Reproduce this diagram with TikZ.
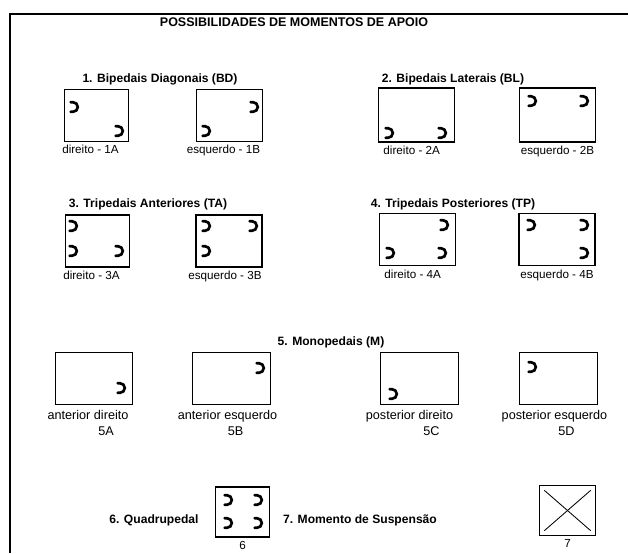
\documentclass[tikz,border=0pt]{standalone}
\usepackage{fontspec}
\setmainfont{Liberation Sans}
\usetikzlibrary{positioning,calc}
\tikzset{
  box/.style={draw=black,line width=0.8pt,inner sep=0pt,minimum height=1.3cm,minimum width=#1},
  box/.default=1.9cm,
  heading/.style={font=\fontsize{8.6}{10}\selectfont\bfseries,inner sep=1pt},
  caption/.style={font=\fontsize{8.3}{10}\selectfont,inner sep=1pt},
  wide caption/.style={font=\fontsize{9}{10.8}\selectfont,inner sep=0.5pt,text height=1.35ex,text depth=0.3ex},
  % pictograms
  pics/hoof/.style={code={
    \draw[line width=1.9pt,line cap=round] (-0.06cm,0.12cm) -- (0cm,0.12cm)
      arc[start angle=90,end angle=-90,radius=0.12cm] -- (-0.06cm,-0.12cm);
  }},
}
\begin{document}
\begin{tikzpicture}[x=0.025cm,y=-0.025cm]
  \useasboundingbox (0,0) rectangle (628,553);
  \draw[line width=1.2pt] (10,553) -- (10,14) -- (628,14);
  \node[heading,font=\fontsize{8.9}{10}\selectfont\bfseries] (title) at (294,22) {POSSIBILIDADES DE MOMENTOS DE APOIO};

  % 1 and 2
  \node[heading] (h1) at (160,79) {1. Bipedais Diagonais (BD)};
  \node[heading] (h2) at (453,79) {2. Bipedais Laterais (BL)};
  \node[box=1.6cm,minimum height=1.28cm] (b1A) at (96.5,115.5) {};
  \node[box=1.66cm,minimum height=1.28cm] (b1B) at (229.5,115.5) {};
  \node[box,minimum height=1.35cm] (b2A) at (416.5,115) {};
  \node[box,minimum height=1.35cm] (b2B) at (557.5,115) {};
  \node[caption,below=1pt of b1A,xshift=-0.15cm] (l1A) {direito - 1A};
  \node[caption,below=1pt of b1B,xshift=-0.15cm] (l1B) {esquerdo - 1B};
  \node[caption,below=1pt of b2A,xshift=-0.12cm] (l2A) {direito - 2A};
  \node[caption,below=1pt of b2B] (l2B) {esquerdo - 2B};

  % 3 and 4
  \node[heading] (h3) at (148,204) {3. Tripedais Anteriores (TA)};
  \node[heading] (h4) at (453,204) {4. Tripedais Posteriores (TP)};
  \node[box=1.62cm] (b3A) at (97.5,241) {};
  \node[box=1.65cm] (b3B) at (229,241) {};
  \node[box,minimum height=1.32cm] (b4A) at (417.5,239.5) {};
  \node[box,minimum height=1.32cm] (b4B) at (557,239.5) {};
  \node[caption,below=1pt of b3A,xshift=-0.15cm] (l3A) {direito - 3A};
  \node[caption,below=1pt of b3B,xshift=-0.1cm] (l3B) {esquerdo - 3B};
  \node[caption,below=1pt of b4A,xshift=-0.12cm] (l4A) {direito - 4A};
  \node[caption,below=1pt of b4B] (l4B) {esquerdo - 4B};

  % 5
  \node[heading] (h5) at (331,342) {5. Monopedais (M)};
  \foreach \n/\x in {5A/94,5B/231.5,5C/419.5,5D/558.5}
    \node[box=1.94cm,minimum height=1.32cm] (b\n) at (\x,378.5) {};
  \node[wide caption,below=2pt of b5A,xshift=-0.15cm] (l5A) {anterior direito};
  \node[wide caption,below=2pt of b5B,xshift=-0.1cm] (l5B) {anterior esquerdo};
  \node[wide caption,below=2pt of b5C,xshift=-0.25cm] (l5C) {posterior direito};
  \node[wide caption,below=2pt of b5D,xshift=-0.1cm] (l5D) {posterior esquerdo};
  \node[wide caption,below=1.2pt of l5A,xshift=0.45cm] (c5A) {5A};
  \node[wide caption,below=1.2pt of l5B,xshift=0.2cm] (c5B) {5B};
  \node[wide caption,below=1.2pt of l5C,xshift=0.55cm] (c5C) {5C};
  \node[wide caption,below=1.2pt of l5D,xshift=0.3cm] (c5D) {5D};

  % 6 and 7
  \node[heading] (h6) at (154,520) {6. Quadrupedal};
  \node[box=1.33cm,minimum height=1.25cm] (b6) at (242.5,512) {};
  \node[caption,below=1.5pt of b6] (c6) {6};
  \node[heading] (h7) at (360,520) {7. Momento de Suspensão};
  \node[box=1.38cm,minimum height=1.23cm] (b7) at (567.5,510.5) {};
  \node[caption,below=1.5pt of b7] (c7) {7};
  \draw[line width=0.6pt] ($(b7.north west)+(5,5)$) -- ($(b7.south east)+(-5,-5)$);
  \draw[line width=0.6pt] ($(b7.north east)+(-5,5)$) -- ($(b7.south west)+(5,-5)$);

  % hoof prints
  \foreach \x/\y in {73/107,118/131,253/107,205/131,
                     388/133,441/133,531/101,583/101,
                     72/226,72/251,118/251,205/226,252/226,205/251,
                     443/225,389/253,441/253,530/225,583/225,583/253,
                     120/388,259/368,392/394,531/367,
                     227/500,257/500,227/523,257/523}
    \pic at (\x,\y) {hoof};
\end{tikzpicture}
\end{document}
